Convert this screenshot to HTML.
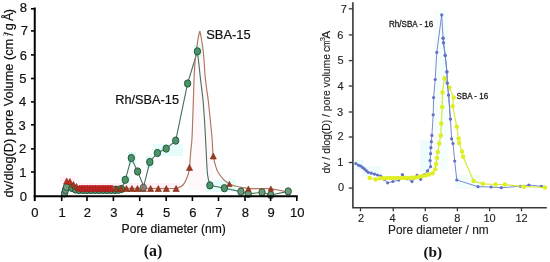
<!DOCTYPE html>
<html><head><meta charset="utf-8"><style>
html,body{margin:0;padding:0;background:#fff;}
body{width:550px;height:262px;overflow:hidden;font-family:"Liberation Sans",sans-serif;}
svg{display:block;will-change:transform;}
</style></head><body>
<svg width="550" height="262" viewBox="0 0 550 262">
<path d="M188,172 C190.5,150 191.5,130 192.5,110 C193.5,85 195,55 197,40 C198.5,30 200.5,29 202,37 C204,55 206,80 208.2,100 C210,120 211.5,140 213.3,156 L213.3,190 L188,190 Z" fill="#fff8fa"/>
<rect x="60" y="176" width="15" height="6" fill="#fff3f9"/>
<rect x="76" y="183" width="104" height="9" fill="#fff0f7"/>
<rect x="121" y="176" width="9" height="8" fill="#dcfbf8"/>
<rect x="128" y="152" width="8" height="12" fill="#dcfbf8"/>
<rect x="146" y="156" width="8" height="12" fill="#dcfbf8"/>
<rect x="153" y="144" width="30" height="12" fill="#e6fcfa"/>
<rect x="194" y="45" width="8" height="12" fill="#dcfbf8"/>
<rect x="206" y="180" width="30" height="12" fill="#e6fcfa"/>
<path d="M62,196 L64.5,193.5 L65.5,190 L66.5,187 L72,188 L75.5,189.5 L79,190 L83,190 L87,190 L91,190 L95,190 L99,190 L103,190 L107,190 L111,190 L115,190 L118.5,189.8 L121.5,189 L125.3,179.8 L131.3,158 L137.6,171.5 L143.7,186.3 L149.8,162 L157.4,153 L166.2,148.6 L175.7,140.6 L187.6,83.5 C188.43,80.75 190.97,72.37 192.60,67.00 C194.23,61.63 196.60,53.92 197.40,51.30 C197.67,53.58 198.47,60.22 199.00,65.00 C199.53,69.78 199.93,74.17 200.60,80.00 C201.27,85.83 202.35,93.33 203.00,100.00 C203.65,106.67 204.07,113.33 204.50,120.00 C204.93,126.67 205.25,133.33 205.60,140.00 C205.95,146.67 206.27,154.17 206.60,160.00 C206.93,165.83 207.05,170.77 207.60,175.00 C208.15,179.23 209.52,183.67 209.90,185.40 L224.4,188.2 L240.9,191.6 L248.2,193.9 L262,192.3 L270.7,195 L288.2,191.4" fill="none" stroke="#45705a" stroke-width="1.1"/>
<path d="M61,197.8 L63.5,190 L66.7,181 L69.9,181.5 L73.5,184.5 L76.5,186.5 L79.5,187.5 L83,188 L176.1,188.5  C177.25,187.92 181.02,187.25 183.00,185.00 C184.98,182.75 186.92,177.93 188.00,175.00 C189.08,172.07 189.05,171.23 189.50,167.40 C189.95,163.57 190.30,156.57 190.70,152.00 C191.10,147.43 191.57,145.33 191.90,140.00 C192.23,134.67 192.45,126.67 192.70,120.00 C192.95,113.33 193.15,107.50 193.40,100.00 C193.65,92.50 193.90,81.67 194.20,75.00 C194.50,68.33 194.82,64.17 195.20,60.00 C195.58,55.83 196.00,53.67 196.50,50.00 C197.00,46.33 197.63,41.17 198.20,38.00 C198.77,34.83 199.62,32.17 199.90,31.00  C200.13,32.17 200.77,34.83 201.30,38.00 C201.83,41.17 202.62,46.00 203.10,50.00 C203.58,54.00 203.88,57.83 204.20,62.00 C204.52,66.17 204.62,70.67 205.00,75.00 C205.38,79.33 205.97,83.83 206.50,88.00 C207.03,92.17 207.57,94.67 208.20,100.00 C208.83,105.33 209.63,113.33 210.30,120.00 C210.97,126.67 211.70,134.00 212.20,140.00 C212.70,146.00 212.33,150.67 213.30,156.00 C214.27,161.33 215.32,167.33 218.00,172.00 C220.68,176.67 224.33,181.23 229.40,184.00 C234.47,186.77 245.23,187.83 248.40,188.60 L270.8,188.6 L288,192" fill="none" stroke="#ad7560" stroke-width="1.15" stroke-linejoin="miter"/>
<ellipse cx="64.5" cy="193.5" rx="3.2" ry="3.65" fill="#6a9c7c" stroke="#28503a" stroke-width="0.95"/>
<ellipse cx="65.5" cy="190" rx="3.2" ry="3.65" fill="#6a9c7c" stroke="#28503a" stroke-width="0.95"/>
<ellipse cx="66.5" cy="187" rx="3.2" ry="3.65" fill="#6a9c7c" stroke="#28503a" stroke-width="0.95"/>
<ellipse cx="72" cy="188" rx="3.2" ry="3.65" fill="#4a9468" stroke="#28503a" stroke-width="0.95"/>
<ellipse cx="75.5" cy="189.5" rx="3.2" ry="3.65" fill="#4a9468" stroke="#28503a" stroke-width="0.95"/>
<ellipse cx="79" cy="190" rx="3.2" ry="3.65" fill="#4a9468" stroke="#28503a" stroke-width="0.95"/>
<ellipse cx="83" cy="190" rx="3.2" ry="3.65" fill="#4a9468" stroke="#28503a" stroke-width="0.95"/>
<ellipse cx="87" cy="190" rx="3.2" ry="3.65" fill="#4a9468" stroke="#28503a" stroke-width="0.95"/>
<ellipse cx="91" cy="190" rx="3.2" ry="3.65" fill="#4a9468" stroke="#28503a" stroke-width="0.95"/>
<ellipse cx="95" cy="190" rx="3.2" ry="3.65" fill="#4a9468" stroke="#28503a" stroke-width="0.95"/>
<ellipse cx="99" cy="190" rx="3.2" ry="3.65" fill="#4a9468" stroke="#28503a" stroke-width="0.95"/>
<ellipse cx="103" cy="190" rx="3.2" ry="3.65" fill="#4a9468" stroke="#28503a" stroke-width="0.95"/>
<ellipse cx="107" cy="190" rx="3.2" ry="3.65" fill="#4a9468" stroke="#28503a" stroke-width="0.95"/>
<ellipse cx="111" cy="190" rx="3.2" ry="3.65" fill="#4a9468" stroke="#28503a" stroke-width="0.95"/>
<ellipse cx="115" cy="190" rx="3.2" ry="3.65" fill="#4a9468" stroke="#28503a" stroke-width="0.95"/>
<ellipse cx="118.5" cy="189.8" rx="3.2" ry="3.65" fill="#4a9468" stroke="#28503a" stroke-width="0.95"/>
<ellipse cx="121.5" cy="189" rx="3.2" ry="3.65" fill="#4a9468" stroke="#28503a" stroke-width="0.95"/>
<ellipse cx="125.3" cy="179.8" rx="3.2" ry="3.65" fill="#4a9468" stroke="#28503a" stroke-width="0.95"/>
<ellipse cx="131.3" cy="158" rx="3.2" ry="3.65" fill="#4a9468" stroke="#28503a" stroke-width="0.95"/>
<ellipse cx="137.6" cy="171.5" rx="3.2" ry="3.65" fill="#4a9468" stroke="#28503a" stroke-width="0.95"/>
<ellipse cx="149.8" cy="162" rx="3.2" ry="3.65" fill="#4a9468" stroke="#28503a" stroke-width="0.95"/>
<ellipse cx="157.4" cy="153" rx="3.2" ry="3.65" fill="#4a9468" stroke="#28503a" stroke-width="0.95"/>
<ellipse cx="166.2" cy="148.6" rx="3.2" ry="3.65" fill="#4a9468" stroke="#28503a" stroke-width="0.95"/>
<ellipse cx="175.7" cy="140.6" rx="3.2" ry="3.65" fill="#4a9468" stroke="#28503a" stroke-width="0.95"/>
<ellipse cx="187.6" cy="83.5" rx="3.2" ry="3.65" fill="#4a9468" stroke="#28503a" stroke-width="0.95"/>
<ellipse cx="197.4" cy="51.3" rx="3.2" ry="3.65" fill="#4a9468" stroke="#28503a" stroke-width="0.95"/>
<ellipse cx="209.9" cy="185.4" rx="3.2" ry="3.65" fill="#4a9468" stroke="#28503a" stroke-width="0.95"/>
<ellipse cx="224.4" cy="188.2" rx="3.2" ry="3.65" fill="#4a9468" stroke="#28503a" stroke-width="0.95"/>
<ellipse cx="240.9" cy="191.6" rx="3.2" ry="3.65" fill="#6a9a78" stroke="#28503a" stroke-width="0.95"/>
<ellipse cx="248.2" cy="193.9" rx="3.2" ry="3.65" fill="#6a9a78" stroke="#28503a" stroke-width="0.95"/>
<ellipse cx="262" cy="192.3" rx="3.2" ry="3.65" fill="#6a9a78" stroke="#28503a" stroke-width="0.95"/>
<ellipse cx="270.7" cy="195" rx="3.2" ry="3.65" fill="#6a9a78" stroke="#28503a" stroke-width="0.95"/>
<ellipse cx="288.2" cy="191.4" rx="3.2" ry="3.65" fill="#6a9a78" stroke="#28503a" stroke-width="0.95"/>
<rect x="79" y="185.2" width="34.5" height="6.2" fill="#d83232"/>
<polygon points="63.6,184.0 66.7,178.0 69.8,184.0" fill="#c0301f" stroke="#7a2a14" stroke-width="0.6"/>
<polygon points="66.8,184.5 69.9,178.5 73.0,184.5" fill="#c0301f" stroke="#7a2a14" stroke-width="0.6"/>
<polygon points="70.4,187.5 73.5,181.5 76.6,187.5" fill="#9c3a1e" stroke="#7a2a14" stroke-width="0.6"/>
<polygon points="73.4,189.5 76.5,183.5 79.6,189.5" fill="#9c3a1e" stroke="#7a2a14" stroke-width="0.6"/>
<polygon points="76.4,191.2 79.5,185.2 82.6,191.2" fill="#c02222" stroke="#a01c1c" stroke-width="0.6"/>
<polygon points="79.0,191.2 82.1,185.2 85.2,191.2" fill="#c02222" stroke="#a01c1c" stroke-width="0.6"/>
<polygon points="81.6,191.2 84.7,185.2 87.8,191.2" fill="#c02222" stroke="#a01c1c" stroke-width="0.6"/>
<polygon points="84.2,191.2 87.3,185.2 90.4,191.2" fill="#c02222" stroke="#a01c1c" stroke-width="0.6"/>
<polygon points="86.8,191.2 89.9,185.2 93.0,191.2" fill="#c02222" stroke="#a01c1c" stroke-width="0.6"/>
<polygon points="89.4,191.2 92.5,185.2 95.6,191.2" fill="#c02222" stroke="#a01c1c" stroke-width="0.6"/>
<polygon points="92.0,191.2 95.1,185.2 98.2,191.2" fill="#c02222" stroke="#a01c1c" stroke-width="0.6"/>
<polygon points="94.6,191.2 97.7,185.2 100.8,191.2" fill="#c02222" stroke="#a01c1c" stroke-width="0.6"/>
<polygon points="97.2,191.2 100.3,185.2 103.4,191.2" fill="#c02222" stroke="#a01c1c" stroke-width="0.6"/>
<polygon points="99.8,191.2 102.9,185.2 106.0,191.2" fill="#c02222" stroke="#a01c1c" stroke-width="0.6"/>
<polygon points="102.4,191.2 105.5,185.2 108.6,191.2" fill="#c02222" stroke="#a01c1c" stroke-width="0.6"/>
<polygon points="105.0,191.2 108.1,185.2 111.2,191.2" fill="#c02222" stroke="#a01c1c" stroke-width="0.6"/>
<polygon points="107.6,191.2 110.7,185.2 113.8,191.2" fill="#c02222" stroke="#a01c1c" stroke-width="0.6"/>
<polygon points="112.9,191.5 116.0,185.5 119.1,191.5" fill="#9c3a1e" stroke="#7a2a14" stroke-width="0.6"/>
<polygon points="118.1,191.5 121.2,185.5 124.3,191.5" fill="#9c3a1e" stroke="#7a2a14" stroke-width="0.6"/>
<polygon points="123.4,191.5 126.5,185.5 129.6,191.5" fill="#9c3a1e" stroke="#7a2a14" stroke-width="0.6"/>
<polygon points="128.8,191.5 131.9,185.5 135.0,191.5" fill="#9c3a1e" stroke="#7a2a14" stroke-width="0.6"/>
<polygon points="134.4,191.5 137.5,185.5 140.6,191.5" fill="#9c3a1e" stroke="#7a2a14" stroke-width="0.6"/>
<polygon points="140.1,191.5 143.2,185.5 146.3,191.5" fill="#9c3a1e" stroke="#7a2a14" stroke-width="0.6"/>
<polygon points="147.5,191.5 150.6,185.5 153.7,191.5" fill="#9c3a1e" stroke="#7a2a14" stroke-width="0.6"/>
<polygon points="155.2,191.5 158.3,185.5 161.4,191.5" fill="#9c3a1e" stroke="#7a2a14" stroke-width="0.6"/>
<polygon points="163.2,191.5 166.3,185.5 169.4,191.5" fill="#9c3a1e" stroke="#7a2a14" stroke-width="0.6"/>
<polygon points="173.0,191.5 176.1,185.5 179.2,191.5" fill="#9c3a1e" stroke="#7a2a14" stroke-width="0.6"/>
<polygon points="186.4,170.4 189.5,164.4 192.6,170.4" fill="#9c3a1e" stroke="#7a2a14" stroke-width="0.6"/>
<polygon points="210.2,159.0 213.3,153.0 216.4,159.0" fill="#9c3a1e" stroke="#7a2a14" stroke-width="0.6"/>
<polygon points="226.7,186.6 229.4,181.4 232.1,186.6" fill="#9c3a1e" stroke="#7a2a14" stroke-width="0.6"/>
<polygon points="245.7,191.2 248.4,186.0 251.1,191.2" fill="#9c3a1e" stroke="#7a2a14" stroke-width="0.6"/>
<polygon points="268.1,191.2 270.8,186.0 273.5,191.2" fill="#9c3a1e" stroke="#7a2a14" stroke-width="0.6"/>
<ellipse cx="143.4" cy="187.6" rx="3.2" ry="3.5" fill="#8a7c74" fill-opacity="0.92" stroke="#3e4a3e" stroke-width="0.7"/>
<g stroke="#000" stroke-width="2" fill="none">
<path d="M34.75,7.6 V201 M33.5,196.25 H297.7"/>
<path d="M31,172.0 H35" stroke-width="1.6"/>
<path d="M31,148.9 H35" stroke-width="1.6"/>
<path d="M31,124.8 H35" stroke-width="1.6"/>
<path d="M31,101.9 H35" stroke-width="1.6"/>
<path d="M31,78.5 H35" stroke-width="1.6"/>
<path d="M31,54.9 H35" stroke-width="1.6"/>
<path d="M31,30.9 H35" stroke-width="1.6"/>
<path d="M31,8.8 H35" stroke-width="1.6"/>
<path d="M61.7,196 V201" stroke-width="1.6"/>
<path d="M87.0,196 V201" stroke-width="1.6"/>
<path d="M113.4,196 V201" stroke-width="1.6"/>
<path d="M139.7,196 V201" stroke-width="1.6"/>
<path d="M166.2,196 V201" stroke-width="1.6"/>
<path d="M192.4,196 V201" stroke-width="1.6"/>
<path d="M218.5,196 V201" stroke-width="1.6"/>
<path d="M245.0,196 V201" stroke-width="1.6"/>
<path d="M270.6,196 V201" stroke-width="1.6"/>
<path d="M296.8,196 V201" stroke-width="1.6"/>
</g>
<g font-family="Liberation Sans, sans-serif" font-size="12" fill="#111" stroke="#111" stroke-width="0.2">
<text x="26.9" y="200.6" text-anchor="end" font-size="13">0</text>
<text x="26.5" y="176.8" text-anchor="end" font-size="13">1</text>
<text x="26.3" y="153.2" text-anchor="end" font-size="13">2</text>
<text x="25.7" y="130.2" text-anchor="end" font-size="13">3</text>
<text x="26.2" y="106.2" text-anchor="end" font-size="13">4</text>
<text x="26.4" y="83.0" text-anchor="end" font-size="13">5</text>
<text x="26.9" y="59.5" text-anchor="end" font-size="13">6</text>
<text x="28.1" y="35.0" text-anchor="end" font-size="13">7</text>
<text x="26.9" y="12.2" text-anchor="end" font-size="13">8</text>
<text x="34.9" y="217.2" text-anchor="middle" font-size="13">0</text>
<text x="62.1" y="217.2" text-anchor="middle" font-size="13">1</text>
<text x="87.4" y="217.2" text-anchor="middle" font-size="13">2</text>
<text x="113.8" y="217.2" text-anchor="middle" font-size="13">3</text>
<text x="140.1" y="217.2" text-anchor="middle" font-size="13">4</text>
<text x="166.6" y="217.2" text-anchor="middle" font-size="13">5</text>
<text x="192.8" y="217.2" text-anchor="middle" font-size="13">6</text>
<text x="218.9" y="217.2" text-anchor="middle" font-size="13">7</text>
<text x="245.4" y="217.2" text-anchor="middle" font-size="13">8</text>
<text x="271.0" y="217.2" text-anchor="middle" font-size="13">9</text>
<text x="297.2" y="217.2" text-anchor="middle" font-size="13">10</text>
<text x="121.6" y="233" font-size="12.1">Pore diameter (nm)</text>
<text x="206.2" y="38.9" font-size="12.9">SBA-15</text>
<text x="115.2" y="103.9" font-size="12.75">Rh/SBA-15</text>
<text transform="translate(12.7,197.6) rotate(-90)" font-size="12.75">dv/dlog(D) pore Volume (cm<tspan x="161" font-size="7" dy="-4.5" fill="#777" stroke="none">3</tspan><tspan x="161.8" dy="4.5">/</tspan><tspan x="167.4">g</tspan><tspan x="176.5">Å</tspan><tspan x="184.4">)</tspan></text>
</g>
<text x="143.7" y="256.4" font-family="Liberation Serif, serif" font-weight="bold" font-size="15.9" fill="#111">(a)</text>
<rect x="353.5" y="160" width="10" height="10" fill="#ecfcfc"/>
<rect x="362" y="166" width="20" height="10" fill="#f0fcfc"/>
<rect x="420" y="140" width="10" height="32" fill="#effcfc"/>
<rect x="434" y="10" width="14" height="160" fill="#f5fdfd"/>
<rect x="455" y="175" width="26" height="14" fill="#f2fcfc"/>
<polyline points="355.9,163.6 358.6,165.3 360.8,166.0 362.5,167.5 364.3,168.8 366.2,170.6 368.2,172.3 371.3,173.2 374.5,174.1 377.5,175.0 380.6,176.2 384.2,179.3 387.6,182.8 392.9,181.5 398.6,180.1 402.4,174.6 407.6,178.8 412.0,181.6 417.1,175.4 420.6,179.3 424.5,174.5 427.5,170.9 430.6,166.6 430.1,160.6 430.6,153.7 430.9,147.7 431.4,141.7 431.9,135.4 433.2,114.8 433.6,97.6 435.2,79.5 436.8,52.3 441.7,14.9 443.1,38.2 443.5,42.8 445.2,55.4 446.9,71.8 447.3,83.1 448.6,95.0 450.4,119.0 451.6,138.8 453.0,143.5 454.7,161.0 456.8,180.0 478.0,186.7 491.1,187.0 501.3,187.7 520.2,186.3 528.9,185.0 541.3,186.3 545.5,186.5" fill="none" stroke="#6c7ccc" stroke-width="0.9"/>
<circle cx="355.9" cy="163.6" r="1.6" fill="#6370c6"/>
<circle cx="358.6" cy="165.3" r="1.6" fill="#6370c6"/>
<circle cx="360.8" cy="166" r="1.6" fill="#6370c6"/>
<circle cx="362.5" cy="167.5" r="1.6" fill="#6370c6"/>
<circle cx="364.3" cy="168.8" r="1.6" fill="#6370c6"/>
<circle cx="366.2" cy="170.6" r="1.6" fill="#6370c6"/>
<circle cx="368.2" cy="172.3" r="1.6" fill="#6370c6"/>
<circle cx="371.3" cy="173.2" r="1.6" fill="#6370c6"/>
<circle cx="374.5" cy="174.1" r="1.6" fill="#6370c6"/>
<circle cx="377.5" cy="175" r="1.6" fill="#6370c6"/>
<circle cx="380.6" cy="176.2" r="1.6" fill="#6370c6"/>
<circle cx="384.2" cy="179.3" r="1.6" fill="#6370c6"/>
<circle cx="387.6" cy="182.8" r="1.6" fill="#6370c6"/>
<circle cx="392.9" cy="181.5" r="1.6" fill="#6370c6"/>
<circle cx="398.6" cy="180.1" r="1.6" fill="#6370c6"/>
<circle cx="402.4" cy="174.6" r="1.6" fill="#6370c6"/>
<circle cx="407.6" cy="178.8" r="1.6" fill="#6370c6"/>
<circle cx="412" cy="181.6" r="1.6" fill="#6370c6"/>
<circle cx="417.1" cy="175.4" r="1.6" fill="#6370c6"/>
<circle cx="420.6" cy="179.3" r="1.6" fill="#6370c6"/>
<circle cx="424.5" cy="174.5" r="1.6" fill="#6370c6"/>
<circle cx="427.5" cy="170.9" r="1.6" fill="#6370c6"/>
<circle cx="430.6" cy="166.6" r="1.6" fill="#6370c6"/>
<circle cx="430.1" cy="160.6" r="1.6" fill="#6370c6"/>
<circle cx="430.6" cy="153.7" r="1.6" fill="#6370c6"/>
<circle cx="430.9" cy="147.7" r="1.6" fill="#6370c6"/>
<circle cx="431.4" cy="141.7" r="1.6" fill="#6370c6"/>
<circle cx="431.9" cy="135.4" r="1.6" fill="#6370c6"/>
<circle cx="433.2" cy="114.8" r="1.6" fill="#6370c6"/>
<circle cx="433.6" cy="97.6" r="1.6" fill="#6370c6"/>
<circle cx="435.2" cy="79.5" r="1.6" fill="#6370c6"/>
<circle cx="436.8" cy="52.3" r="1.6" fill="#6370c6"/>
<circle cx="441.7" cy="14.9" r="1.6" fill="#6370c6"/>
<circle cx="443.1" cy="38.2" r="1.6" fill="#6370c6"/>
<circle cx="443.5" cy="42.8" r="1.6" fill="#6370c6"/>
<circle cx="445.2" cy="55.4" r="1.6" fill="#6370c6"/>
<circle cx="446.9" cy="71.8" r="1.6" fill="#6370c6"/>
<circle cx="447.3" cy="83.1" r="1.6" fill="#6370c6"/>
<circle cx="448.6" cy="95" r="1.6" fill="#6370c6"/>
<circle cx="450.4" cy="119" r="1.6" fill="#6370c6"/>
<circle cx="451.6" cy="138.8" r="1.6" fill="#6370c6"/>
<circle cx="453" cy="143.5" r="1.6" fill="#6370c6"/>
<circle cx="454.7" cy="161" r="1.6" fill="#6370c6"/>
<circle cx="456.8" cy="180" r="1.6" fill="#6370c6"/>
<circle cx="478" cy="186.7" r="1.6" fill="#6370c6"/>
<circle cx="491.1" cy="187" r="1.6" fill="#6370c6"/>
<circle cx="501.3" cy="187.7" r="1.6" fill="#6370c6"/>
<circle cx="520.2" cy="186.3" r="1.6" fill="#6370c6"/>
<circle cx="528.9" cy="185" r="1.6" fill="#6370c6"/>
<circle cx="541.3" cy="186.3" r="1.6" fill="#6370c6"/>
<polyline points="369.6,177.9 375.7,179.5 380.0,178.3 383.5,178.2 387.0,178.0 390.5,178.0 394.0,178.1 397.5,178.1 401.0,178.0 404.5,177.9 408.0,178.0 411.5,177.7 415.0,177.4 418.5,177.0 422.0,176.3 425.3,175.4 428.8,174.4 432.6,173.3 435.2,169.2 436.1,164.0 437.0,158.0 437.8,152.0 439.2,143.4 440.8,135.4 441.3,123.4 442.2,107.0 442.5,92.4 444.4,78.2 449.4,87.5 453.6,97.4 452.7,106.2 456.8,126.8 458.6,138.5 459.2,143.0 462.0,151.6 463.1,156.8 473.6,181.0 482.9,183.8 495.5,184.5 504.9,184.5 523.8,186.7 544.9,187.5" fill="none" stroke="#d6e83a" stroke-width="1.2"/>
<circle cx="369.6" cy="177.9" r="2.25" fill="#dfee22"/>
<circle cx="375.7" cy="179.5" r="2.25" fill="#dfee22"/>
<circle cx="380" cy="178.3" r="2.25" fill="#dfee22"/>
<circle cx="383.5" cy="178.2" r="2.25" fill="#dfee22"/>
<circle cx="387" cy="178" r="2.25" fill="#dfee22"/>
<circle cx="390.5" cy="178" r="2.25" fill="#dfee22"/>
<circle cx="394" cy="178.1" r="2.25" fill="#dfee22"/>
<circle cx="397.5" cy="178.1" r="2.25" fill="#dfee22"/>
<circle cx="401" cy="178" r="2.25" fill="#dfee22"/>
<circle cx="404.5" cy="177.9" r="2.25" fill="#dfee22"/>
<circle cx="408" cy="178" r="2.25" fill="#dfee22"/>
<circle cx="411.5" cy="177.7" r="2.25" fill="#dfee22"/>
<circle cx="415" cy="177.4" r="2.25" fill="#dfee22"/>
<circle cx="418.5" cy="177" r="2.25" fill="#dfee22"/>
<circle cx="422" cy="176.3" r="2.25" fill="#dfee22"/>
<circle cx="425.3" cy="175.4" r="2.25" fill="#dfee22"/>
<circle cx="428.8" cy="174.4" r="2.25" fill="#dfee22"/>
<circle cx="432.6" cy="173.3" r="2.25" fill="#dfee22"/>
<circle cx="435.2" cy="169.2" r="2.25" fill="#dfee22"/>
<circle cx="436.1" cy="164" r="2.25" fill="#dfee22"/>
<circle cx="437" cy="158" r="2.25" fill="#dfee22"/>
<circle cx="437.8" cy="152" r="2.25" fill="#dfee22"/>
<circle cx="439.2" cy="143.4" r="2.25" fill="#dfee22"/>
<circle cx="440.8" cy="135.4" r="2.25" fill="#dfee22"/>
<circle cx="441.3" cy="123.4" r="2.25" fill="#dfee22"/>
<circle cx="442.2" cy="107" r="2.25" fill="#dfee22"/>
<circle cx="442.5" cy="92.4" r="2.25" fill="#dfee22"/>
<circle cx="444.4" cy="78.2" r="2.25" fill="#dfee22"/>
<circle cx="449.4" cy="87.5" r="2.25" fill="#dfee22"/>
<circle cx="453.6" cy="97.4" r="2.25" fill="#dfee22"/>
<circle cx="452.7" cy="106.2" r="2.25" fill="#dfee22"/>
<circle cx="456.8" cy="126.8" r="2.25" fill="#dfee22"/>
<circle cx="458.6" cy="138.5" r="2.25" fill="#dfee22"/>
<circle cx="459.2" cy="143" r="2.25" fill="#dfee22"/>
<circle cx="462" cy="151.6" r="2.25" fill="#dfee22"/>
<circle cx="463.1" cy="156.8" r="2.25" fill="#dfee22"/>
<circle cx="473.6" cy="181" r="2.25" fill="#dfee22"/>
<circle cx="482.9" cy="183.8" r="2.25" fill="#dfee22"/>
<circle cx="495.5" cy="184.5" r="2.25" fill="#dfee22"/>
<circle cx="504.9" cy="184.5" r="2.25" fill="#dfee22"/>
<circle cx="523.8" cy="186.7" r="2.25" fill="#dfee22"/>
<circle cx="544.9" cy="187.5" r="2.25" fill="#dfee22"/>
<polyline points="443.1,38.2 443.5,42.8 445.2,55.4 446.9,71.8 447.3,83.1 448.6,95.0 450.4,119.0" fill="none" stroke="#6c7ccc" stroke-width="0.9"/>
<circle cx="443.1" cy="38.2" r="1.6" fill="#6370c6"/>
<circle cx="443.5" cy="42.8" r="1.6" fill="#6370c6"/>
<circle cx="445.2" cy="55.4" r="1.6" fill="#6370c6"/>
<circle cx="446.9" cy="71.8" r="1.6" fill="#6370c6"/>
<circle cx="447.3" cy="83.1" r="1.6" fill="#6370c6"/>
<circle cx="448.6" cy="95" r="1.6" fill="#6370c6"/>
<circle cx="450.4" cy="119" r="1.6" fill="#6370c6"/>
<g stroke="#383838" stroke-width="1.6" fill="none">
<path d="M352.9,2.3 V207.7 H546.8"/>
<path d="M348.8,188.1 H353" stroke-width="1.3"/>
<path d="M348.8,162.5 H353" stroke-width="1.3"/>
<path d="M348.8,137.0 H353" stroke-width="1.3"/>
<path d="M348.8,112.0 H353" stroke-width="1.3"/>
<path d="M348.8,86.0 H353" stroke-width="1.3"/>
<path d="M348.8,60.6 H353" stroke-width="1.3"/>
<path d="M348.8,34.9 H353" stroke-width="1.3"/>
<path d="M348.8,8.8 H353" stroke-width="1.3"/>
<path d="M360.5,207.7 V211.3" stroke-width="1.3"/>
<path d="M393.2,207.7 V211.3" stroke-width="1.3"/>
<path d="M425.3,207.7 V211.3" stroke-width="1.3"/>
<path d="M457.4,207.7 V211.3" stroke-width="1.3"/>
<path d="M489.6,207.7 V211.3" stroke-width="1.3"/>
<path d="M521.5,207.7 V211.3" stroke-width="1.3"/>
</g>
<g font-family="Liberation Sans, sans-serif" font-size="10.5" fill="#222" stroke="#222" stroke-width="0.12">
<text x="344.0" y="190.8" text-anchor="end" font-size="11">0</text>
<text x="343.29999999999995" y="165.9" text-anchor="end" font-size="11">1</text>
<text x="343.59999999999997" y="139.8" text-anchor="end" font-size="11">2</text>
<text x="343.2" y="116.1" text-anchor="end" font-size="11">3</text>
<text x="343.59999999999997" y="89.5" text-anchor="end" font-size="11">4</text>
<text x="343.59999999999997" y="63.7" text-anchor="end" font-size="11">5</text>
<text x="343.4" y="39.2" text-anchor="end" font-size="11">6</text>
<text x="346.79999999999995" y="12.7" text-anchor="end" font-size="11">7</text>
<text x="361.1" y="222.1" text-anchor="middle" font-size="11">2</text>
<text x="392.6" y="222.1" text-anchor="middle" font-size="11">4</text>
<text x="425.3" y="222.1" text-anchor="middle" font-size="11">6</text>
<text x="457.4" y="222.1" text-anchor="middle" font-size="11">8</text>
<text x="489.6" y="222.1" text-anchor="middle" font-size="11">10</text>
<text x="521.5" y="222.1" text-anchor="middle" font-size="11">12</text>
<text x="388" y="233.6" font-size="12.4" textLength="100.6" lengthAdjust="spacingAndGlyphs" stroke="#222" stroke-width="0.15">Pore diameter / nm</text>
<text x="389" y="26.8" font-size="8.6" textLength="44.3" lengthAdjust="spacingAndGlyphs" fill="#1a1a1a" stroke="#1a1a1a" stroke-width="0.3">Rh/SBA - 16</text>
<text x="456.6" y="98.7" font-size="8.6" textLength="31.5" lengthAdjust="spacingAndGlyphs" fill="#1a1a1a" stroke="#1a1a1a" stroke-width="0.3">SBA - 16</text>
<text transform="translate(329.6,173.5) rotate(-90)" font-size="10.4">dv / dlog(D) / pore volume <tspan x="121.4">c</tspan><tspan x="126.4" textLength="6.6" lengthAdjust="spacingAndGlyphs">m</tspan><tspan x="132.4" font-size="7.2" dy="-5.1">3</tspan><tspan x="134.8" dy="5.1" textLength="8" lengthAdjust="spacingAndGlyphs">A</tspan></text>
</g>
<text x="423.4" y="256.7" font-family="Liberation Serif, serif" font-weight="bold" font-size="15.3" fill="#111">(b)</text>
</svg>
</body></html>
